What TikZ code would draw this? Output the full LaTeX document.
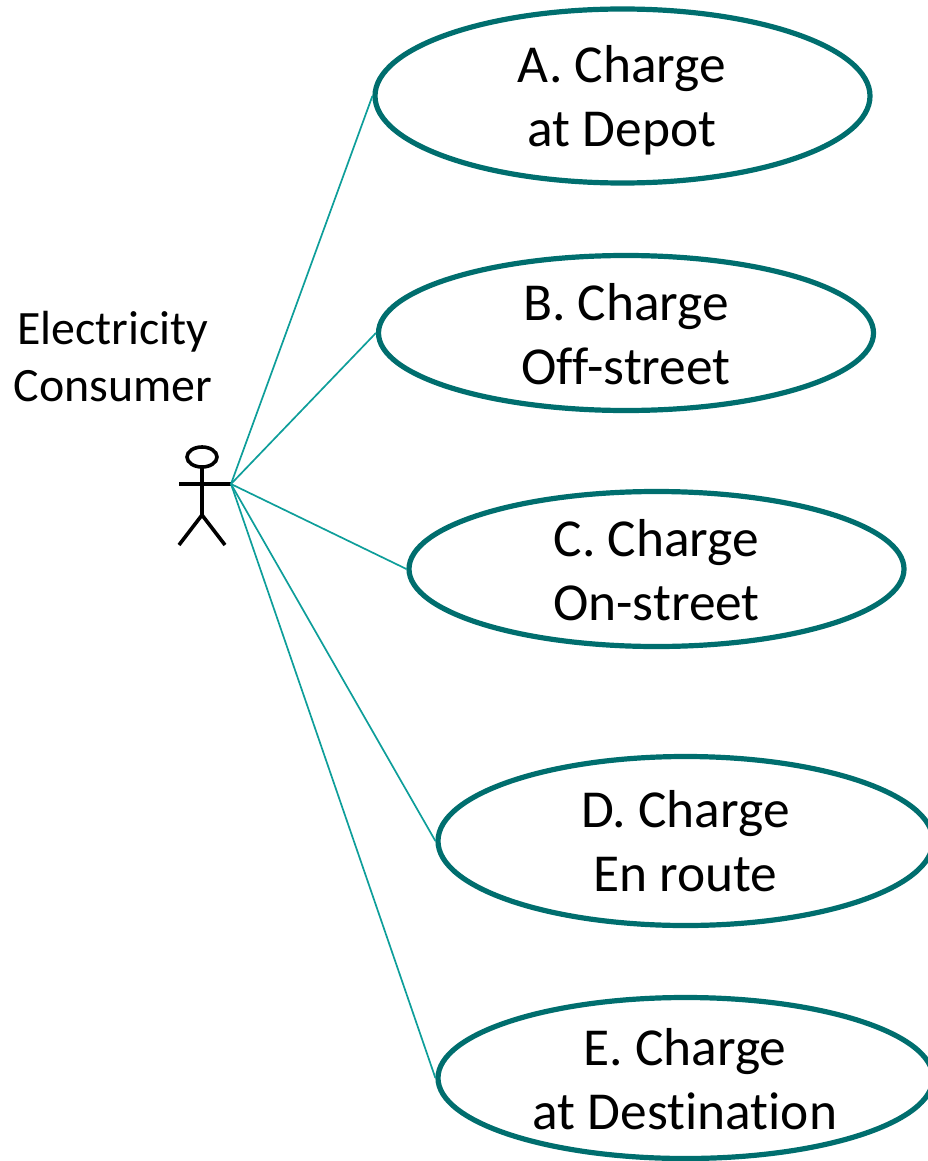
\documentclass[tikz,border=0pt]{standalone}
\usepackage{fontspec}
\setmainfont[Ligatures=NoCommon]{Carlito}
\definecolor{ellcol}{HTML}{006E6E}
\definecolor{linecol}{HTML}{0E9E9A}
\usetikzlibrary{shapes.geometric}
\tikzset{
 usecase/.style={draw=ellcol,line width=5.2pt,ellipse,inner sep=0pt,align=center},
 conn/.style={draw=linecol,line width=1.7pt},
 stick/.style={draw=black,line width=3.6pt},
 ttext/.style={font=\fontsize{53.4}{64}\selectfont,align=center,inner sep=0pt,text=black},
 atext/.style={font=\fontsize{47.9}{57}\selectfont,align=center,inner sep=0pt,text=black}
}
\begin{document}
\begin{tikzpicture}[x=1pt,y=-1pt]
\useasboundingbox (0,0) rectangle (927,1161);
\node[usecase,minimum width=495pt,minimum height=174pt] (A) at (622.5,96) {};
\node[usecase,minimum width=495pt,minimum height=155pt] (B) at (626,333) {};
\node[usecase,minimum width=495pt,minimum height=155pt] (C) at (656.5,569) {};
\node[usecase,minimum width=495pt,minimum height=169pt] (D) at (685.5,841) {};
\node[usecase,minimum width=495pt,minimum height=161pt] (E) at (685.5,1078) {};
\node[ttext] (ta) at (622,100) {A. Charge\\at Depot};
\node[ttext] (tb) at (626,334) {B. Charge\\Off-street};
\node[ttext] (tc) at (656.5,570) {C. Charge\\On-street};
\node[ttext] (td) at (685.5,841) {D. Charge\\En route};
\node[ttext] (te) at (685,1079) {E. Charge\\at Destination};
\node[atext] (lab) at (113,357) {Electricity\\Consumer};
\coordinate (hand) at (231,484);
\draw[stick] (202,457) ellipse (15 and 10);
\coordinate (neck) at (202,467);
\coordinate (hip) at (202,515);
\coordinate (handl) at (179,484);
\coordinate (footl) at (179,545);
\coordinate (footr) at (225,545);
\draw[stick] (neck) -- (hip);
\draw[stick] (handl) -- (hand);
\draw[stick] (footl) -- (hip) -- (footr);
\draw[conn] (hand) -- (A.west);
\draw[conn] (hand) -- (B.west);
\draw[conn] (hand) -- (C.west);
\draw[conn] (hand) -- (D.west);
\draw[conn] (hand) -- (E.west);
\end{tikzpicture}
\end{document}
